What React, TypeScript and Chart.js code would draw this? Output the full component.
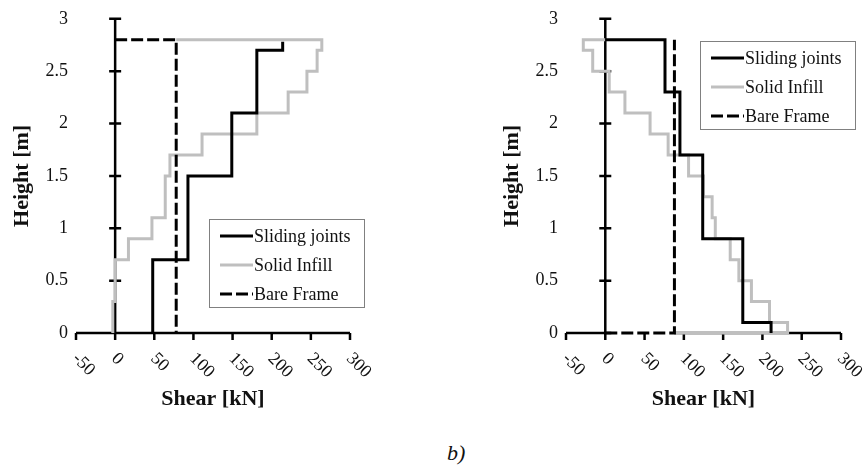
import React, { useEffect, useRef } from "react";
import { Chart, registerables } from "chart.js";

Chart.register(...registerables);

// ---- axis ticks / labels ----
const xTicks = [-50, 0, 50, 100, 150, 200, 250, 300];
const yTicks = [0, 0.5, 1, 1.5, 2, 2.5, 3];
const seriesNames = ["Sliding joints", "Solid Infill", "Bare Frame"];
const xTitle = "Shear [kN]";
const yTitle = "Height [m]";
const caption = "b)";

// ---- left panel ----
const leftSlidingShear = [48, 48, 93, 93, 149, 149, 181, 181, 214, 214];
const leftSlidingHeight = [0, 0.7, 0.7, 1.5, 1.5, 2.1, 2.1, 2.7, 2.7, 2.78];

const leftInfillShear = [-3, -3, 0, 0, 17, 17, 47, 47, 64, 64, 70, 70, 111, 111, 181, 181, 221, 221, 245, 245, 258, 258, 264, 264, 78];
const leftInfillHeight = [0, 0.3, 0.3, 0.7, 0.7, 0.9, 0.9, 1.1, 1.1, 1.5, 1.5, 1.7, 1.7, 1.9, 1.9, 2.1, 2.1, 2.3, 2.3, 2.5, 2.5, 2.7, 2.7, 2.8, 2.8];

const leftBareShear = [0, 78, 78];
const leftBareHeight = [2.8, 2.8, 0];

// ---- right panel ----
const rightSlidingShear = [0, 76, 76, 95, 95, 124, 124, 175, 175, 211, 211];
const rightSlidingHeight = [2.8, 2.8, 2.3, 2.3, 1.7, 1.7, 0.9, 0.9, 0.1, 0.1, 0];

const rightInfillShear = [0, -28, -28, -16, -16, 5, 5, 25, 25, 57, 57, 80, 80, 106, 106, 125, 125, 136, 136, 140, 140, 159, 159, 170, 170, 186, 186, 209, 209, 232, 232, 88];
const rightInfillHeight = [2.8, 2.8, 2.7, 2.7, 2.5, 2.5, 2.3, 2.3, 2.1, 2.1, 1.9, 1.9, 1.7, 1.7, 1.5, 1.5, 1.3, 1.3, 1.1, 1.1, 0.9, 0.9, 0.7, 0.7, 0.5, 0.5, 0.3, 0.3, 0.1, 0.1, 0, 0];

const rightBareShear = [0, 88, 88];
const rightBareHeight = [0, 0, 2.8];

const zip = (xs: number[], ys: number[]) => xs.map((x, i) => ({ x, y: ys[i] }));

const SERIF = "'Liberation Serif', 'Times New Roman', serif";

const excelAxes = {
  id: "excelAxes",
  beforeDatasetsDraw(chart: any) {
    const { ctx } = chart;
    const xs = chart.scales.x;
    const ys = chart.scales.y;
    const x0 = xs.getPixelForValue(0);
    const y0 = ys.getPixelForValue(0);
    // dashed series lying on the x axis leaves its gaps white (as in the source)
    let gapFrom = NaN;
    let gapTo = NaN;
    chart.data.datasets.forEach((ds: any) => {
      if (!ds.borderDash) return;
      const onAxis = ds.data.filter((pt: any) => pt.y === 0).map((pt: any) => pt.x);
      if (onAxis.length >= 2) {
        gapFrom = xs.getPixelForValue(Math.min(...onAxis));
        gapTo = xs.getPixelForValue(Math.max(...onAxis));
      }
    });
    ctx.save();
    ctx.strokeStyle = "#000";
    ctx.lineWidth = 2.5;
    ctx.lineCap = "butt";
    ctx.beginPath();
    const xa = xs.getPixelForValue(xTicks[0]);
    const xb = xs.getPixelForValue(xTicks[xTicks.length - 1]);
    if (isNaN(gapFrom)) {
      ctx.moveTo(xa, y0);
      ctx.lineTo(xb, y0);
    } else {
      ctx.moveTo(xa, y0);
      ctx.lineTo(gapFrom, y0);
      ctx.moveTo(gapTo, y0);
      ctx.lineTo(xb, y0);
    }
    ctx.moveTo(x0, ys.getPixelForValue(yTicks[0]));
    ctx.lineTo(x0, ys.getPixelForValue(yTicks[yTicks.length - 1]));
    for (const v of xTicks) {
      const p = xs.getPixelForValue(v);
      ctx.moveTo(p, y0);
      ctx.lineTo(p, y0 + 7);
    }
    for (const v of yTicks) {
      const p = ys.getPixelForValue(v);
      ctx.moveTo(x0 - 6, p);
      ctx.lineTo(x0 + 6, p);
    }
    ctx.stroke();
    ctx.fillStyle = "#111";
    ctx.font = `18px ${SERIF}`;
    ctx.textAlign = "left";
    ctx.textBaseline = "middle";
    for (const v of xTicks) {
      const p = xs.getPixelForValue(v);
      ctx.save();
      ctx.translate(p - 1, y0 + 23);
      ctx.rotate(Math.PI / 4);
      ctx.fillText(String(v), 0, 0);
      ctx.restore();
    }
    ctx.restore();
  },
  afterDatasetsDraw(chart: any, _args: any, opts: any) {
    const { ctx } = chart;
    const bx = opts.boxX;
    const by = opts.boxY;
    const bw = 155;
    const bh = 88;
    ctx.save();
    ctx.fillStyle = "#fff";
    ctx.fillRect(bx, by, bw, bh);
    ctx.strokeStyle = "#808080";
    ctx.lineWidth = 1;
    ctx.strokeRect(bx + 0.5, by + 0.5, bw, bh);
    ctx.font = `18px ${SERIF}`;
    ctx.textAlign = "left";
    ctx.textBaseline = "middle";
    chart.data.datasets.forEach((ds: any, i: number) => {
      const ry = by + 17 + i * 29;
      ctx.strokeStyle = ds.borderColor;
      ctx.lineWidth = ds.borderWidth;
      ctx.setLineDash(ds.borderDash || []);
      ctx.beginPath();
      ctx.moveTo(bx + 11, ry);
      ctx.lineTo(bx + 44, ry);
      ctx.stroke();
      ctx.setLineDash([]);
      ctx.fillStyle = "#111";
      ctx.fillText(ds.label, bx + 45, ry + 1);
    });
    ctx.restore();
  },
};

type PanelProps = {
  sliding: { x: number; y: number }[];
  infill: { x: number; y: number }[];
  bare: { x: number; y: number }[];
  left: number;
  width: number;
  padRight: number;
  boxX: number;
  boxY: number;
};

function Panel(p: PanelProps) {
  const ref = useRef<HTMLCanvasElement | null>(null);
  useEffect(() => {
    if (!ref.current) return;
    const chart = new Chart(ref.current, {
      type: "scatter",
      data: {
        datasets: [
          { label: seriesNames[0], data: p.sliding, showLine: true, borderColor: "#000", borderWidth: 3, pointRadius: 0, order: 0, clip: 6 },
          { label: seriesNames[1], data: p.infill, showLine: true, borderColor: "#bfbfbf", borderWidth: 3, pointRadius: 0, order: 2, clip: 6 },
          { label: seriesNames[2], data: p.bare, showLine: true, borderColor: "#000", borderWidth: 3, borderDash: [12, 4], pointRadius: 0, order: 1, clip: 6 },
        ] as any,
      },
      options: {
        animation: false,
        responsive: false,
        maintainAspectRatio: false,
        layout: { padding: { top: 18, right: p.padRight, left: 0, bottom: 0 } },
        plugins: {
          legend: { display: false },
          tooltip: { enabled: false },
          excelAxes: { boxX: p.boxX, boxY: p.boxY },
        } as any,
        scales: {
          x: {
            type: "linear",
            min: xTicks[0],
            max: xTicks[xTicks.length - 1],
            grid: { display: false, drawTicks: false },
            border: { display: false },
            ticks: { display: false, stepSize: 50 },
            title: { display: true, text: xTitle, color: "#111", font: { family: SERIF, size: 22, weight: "bold" }, padding: { top: 0, bottom: 7 } },
            afterFit: (s: any) => { s.height = 87; },
          },
          y: {
            type: "linear",
            min: yTicks[0],
            max: yTicks[yTicks.length - 1],
            grid: { display: false, drawTicks: false },
            border: { display: false },
            ticks: {
              stepSize: 0.5,
              padding: 8,
              color: "#111",
              font: { family: SERIF, size: 18 },
              callback: (v: any) => String(Number(v)),
            },
            title: { display: true, text: yTitle, color: "#111", font: { family: SERIF, size: 22, weight: "bold" }, padding: { top: 9, bottom: 0 } },
            afterFit: (s: any) => { s.width = 76; },
          },
        },
      } as any,
      plugins: [excelAxes as any],
    });
    return () => chart.destroy();
  }, []);
  return (
    <canvas
      ref={ref}
      width={p.width}
      height={420}
      style={{ position: "absolute", left: p.left, top: 0, width: p.width, height: 420 }}
    />
  );
}

export default function App() {
  return (
    <div style={{ position: "fixed", left: 0, top: 0, width: 863, height: 473, background: "#fff", overflow: "hidden" }}>
      <Panel
        sliding={zip(leftSlidingShear, leftSlidingHeight)}
        infill={zip(leftInfillShear, leftInfillHeight)}
        bare={zip(leftBareShear, leftBareHeight)}
        left={0}
        width={430}
        padRight={80}
        boxX={209}
        boxY={219}
      />
      <Panel
        sliding={zip(rightSlidingShear, rightSlidingHeight)}
        infill={zip(rightInfillShear, rightInfillHeight)}
        bare={zip(rightBareShear, rightBareHeight)}
        left={490}
        width={373}
        padRight={22}
        boxX={210}
        boxY={41}
      />
      <div style={{ position: "absolute", left: 447, top: 441, font: `italic 22px ${SERIF}`, color: "#111", lineHeight: "24px" }}>
        {caption}
      </div>
    </div>
  );
}
